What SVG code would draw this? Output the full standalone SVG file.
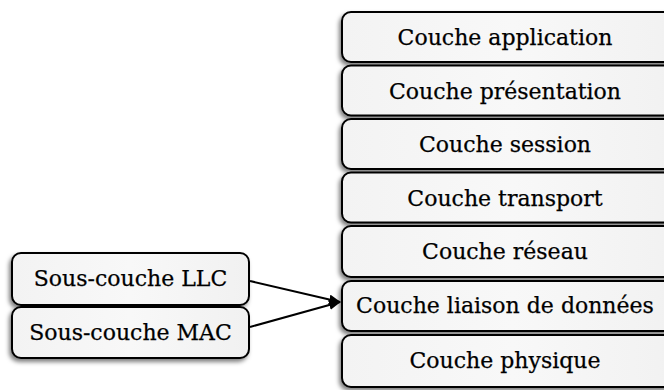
<svg xmlns="http://www.w3.org/2000/svg" width="664" height="390" viewBox="0 0 664 390">
<style>
.box{fill:url(#g);stroke:#000;stroke-width:2;filter:url(#sh)}
.t{font-family:"DejaVu Serif","Liberation Serif",serif;font-size:22px;fill:#000;stroke:#000;stroke-width:0.25;text-anchor:middle}
.c{stroke:#000;stroke-width:2;fill:none}
</style>
<defs>
<linearGradient id="g" x1="0" y1="0" x2="1" y2="0">
<stop offset="0" stop-color="#f3f3f3"/>
<stop offset="0.5" stop-color="#f8f8f8"/>
<stop offset="1" stop-color="#f1f1f1"/>
</linearGradient>
<filter id="sh" x="-10%" y="-20%" width="120%" height="150%">
<feDropShadow dx="-2" dy="3" stdDeviation="2" flood-color="#000" flood-opacity="0.5"/>
</filter>
<marker id="ah" markerWidth="12" markerHeight="10" refX="11" refY="5" orient="auto" markerUnits="userSpaceOnUse">
<path d="M0,0 L12,5 L0,10 z" fill="#000"/>
</marker>
</defs>
<g id="n1"><rect class="box" x="342" y="12" width="340" height="50" rx="9"/><text class="t" x="505" y="45">Couche application</text></g>
<g id="n2"><rect class="box" x="342" y="65.5" width="340" height="50" rx="9"/><text class="t" x="505" y="98.5">Couche présentation</text></g>
<g id="n3"><rect class="box" x="342" y="119" width="340" height="50" rx="9"/><text class="t" x="505" y="152">Couche session</text></g>
<g id="n4"><rect class="box" x="342" y="172.5" width="340" height="50" rx="9"/><text class="t" x="505" y="205.5">Couche transport</text></g>
<g id="n5"><rect class="box" x="342" y="226" width="340" height="51" rx="9"/><text class="t" x="505" y="259">Couche réseau</text></g>
<g id="n6"><rect class="box" x="342" y="281" width="340" height="50" rx="9"/><text class="t" x="505" y="313">Couche liaison de données</text></g>
<g id="n7"><rect class="box" x="342" y="335" width="340" height="52" rx="9"/><text class="t" x="505" y="368">Couche physique</text></g>
<g id="n8"><rect class="box" x="12" y="253" width="237" height="52" rx="9"/><text class="t" x="130.5" y="286">Sous-couche LLC</text></g>
<g id="n9"><rect class="box" x="12" y="307" width="237" height="51" rx="9"/><text class="t" x="130.5" y="340">Sous-couche MAC</text></g>
<g id="connectors">
<line class="c" x1="250" y1="281" x2="340" y2="302" marker-end="url(#ah)"/>
<line class="c" x1="250" y1="327" x2="340" y2="302" marker-end="url(#ah)"/>
</g>
</svg>
